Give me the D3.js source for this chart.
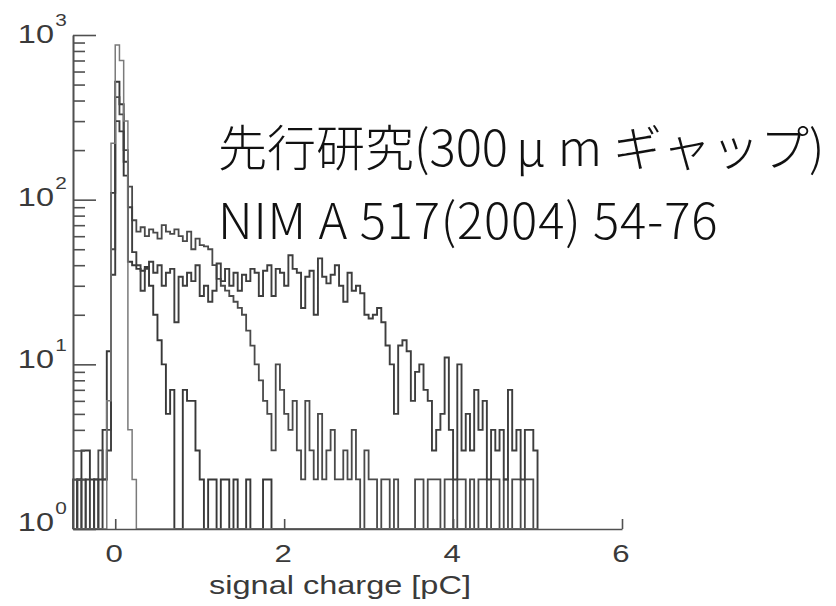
<!DOCTYPE html>
<html lang="ja">
<head>
<meta charset="UTF-8">
<title>signal charge</title>
<style>
  html, body { margin: 0; padding: 0; background: #fff; }
  svg { display: block; }
  .lbl { font-family: "Liberation Sans", Arial, sans-serif; fill: #3a3a3a; }
  .note { font-family: "Noto Sans CJK JP", sans-serif; fill: #111; font-size: 49px; font-weight: 300; }
</style>
</head>
<body>
<div id="chart"></div>
<script src="https://d3js.org/d3.v7.min.js"></script>
<script>
// histograms: 0.05 pC bins starting at -0.5 pC (110 bins up to 5.0 pC)
const binStart = -0.5;
const binWidth = 0.05;

const pedestal = [
  0, 0, 0, 0, 0, 0, 0, 1, 6, 220,
  870, 700, 300, 4, 2, 0, 0, 0, 0, 0,
  0, 0, 0, 0, 0, 0, 0, 0, 0, 0,
  0, 0, 0, 0, 0, 0, 0, 0, 0, 0,
  0, 0, 0, 0, 0, 0, 0, 0, 0, 0,
  0, 0, 0, 0, 0, 0, 0, 0, 0, 0,
  0, 0, 0, 0, 0, 0, 0, 0, 0, 0,
  0, 0, 0, 0, 0, 0, 0, 0, 0, 0,
  0, 0, 0, 0, 0, 0, 0, 0, 0, 0,
  0, 0, 0, 0, 0, 0, 0, 0, 0, 0,
  0, 0, 0, 0, 0, 0, 0, 0, 0, 0
];

const lowGain = [
  0, 2, 3, 3, 2, 0, 2, 4, 12, 110,
  520, 380, 140, 42, 40, 38, 37, 39, 30, 20,
  14, 10, 5, 7, 1, 1, 7, 6, 6, 3,
  2, 0, 2, 2, 0, 2, 2, 0, 2, 0,
  0, 2, 0, 0, 0, 2, 2, 0, 0, 0,
  0, 0, 0, 0, 0, 0, 0, 0, 0, 0,
  0, 0, 0, 0, 0, 0, 0, 0, 0, 0,
  0, 0, 0, 0, 0, 0, 0, 0, 0, 0,
  0, 0, 0, 0, 0, 0, 0, 0, 0, 0,
  0, 0, 0, 0, 0, 0, 0, 0, 0, 0,
  0, 0, 0, 0, 0, 0, 0, 0, 0, 0
];

const midGain = [
  2, 0, 2, 0, 0, 2, 3, 2, 4, 50,
  420, 330, 200, 120, 75, 64, 68, 60, 66, 63,
  58, 70, 64, 62, 66, 60, 56, 64, 50, 58,
  53, 52, 50, 40, 33, 30, 28, 26, 24, 22,
  20, 16, 13, 10, 8, 6, 5, 3, 10, 7,
  5, 4, 6, 3, 2, 6, 3, 2, 5, 2,
  3, 4, 2, 2, 3, 2, 4, 2, 0, 3,
  2, 2, 0, 2, 2, 0, 2, 1, 0, 0,
  0, 2, 2, 0, 2, 2, 2, 0, 2, 2,
  0, 2, 2, 0, 2, 0, 2, 2, 0, 2,
  2, 0, 2, 0, 2, 2, 0, 2, 2, 0
];

const highGain = [
  0, 2, 0, 2, 0, 2, 0, 2, 3, 35,
  300, 260, 170, 90, 48, 40, 28, 38, 42, 36,
  40, 30, 36, 38, 18, 34, 30, 36, 32, 40,
  26, 30, 24, 28, 41, 32, 38, 30, 36, 28,
  35, 32, 38, 36, 26, 37, 40, 26, 38, 36,
  30, 46, 38, 36, 22, 34, 37, 20, 44, 34,
  31, 35, 40, 30, 24, 36, 28, 30, 27, 20,
  19, 20, 22, 18, 13, 10, 5, 13, 14, 12,
  6, 9, 10, 7, 6, 3, 4, 5, 11, 4,
  2, 10, 3, 5, 3, 7, 4, 6, 2, 4,
  3, 4, 2, 7, 3, 4, 2, 4, 4, 3
];

const yTicks = [1, 10, 100, 1000];
const yExponents = ['0', '1', '2', '3'];
const xTicks = [0, 2, 4, 6];
const xTitle = 'signal charge [pC]';
// first line is split so the μ gets the wide spacing of the original
const noteLine1 = ['先行研究(300', 'μ', 'm ギャップ)'];
const noteLine2 = 'NIM A 517(2004) 54-76';

const width = 836, height = 606;
const stretch = 1.3; // the original plot is stretched horizontally

const svg = d3.select('#chart').append('svg')
  .attr('width', width)
  .attr('height', height);

const x = d3.scaleLinear().domain([-0.5, 6]).range([73, 622]);
const y = d3.scaleLog().domain([1, 1000]).range([529, 35]);

// histogram outlines
const line = d3.line()
  .x(d => x(d[0]))
  .y(d => y(Math.max(d[1], 1)));

function histPoints(counts) {
  const pts = [[binStart, 0]];
  counts.forEach((c, i) => {
    const x0 = binStart + i * binWidth;
    pts.push([x0, c], [x0 + binWidth, c]);
  });
  pts.push([binStart + counts.length * binWidth, 0]);
  return pts;
}

const series = [
  { data: lowGain, color: '#383838', w: 1.9 },
  { data: midGain, color: '#4a4a4a', w: 1.8 },
  { data: highGain, color: '#3e3e3e', w: 1.9 },
  { data: pedestal, color: '#7a7a7a', w: 1.5 }
];

series.forEach(s => {
  svg.append('path')
    .attr('d', line(histPoints(s.data)))
    .attr('fill', 'none')
    .attr('stroke', s.color)
    .attr('stroke-width', s.w)
    .attr('stroke-linejoin', 'miter');
});

// y axis (ticks pointing inward)
const minorTicks = [];
[1, 10, 100].forEach(d => {
  for (let m = 2; m <= 9; m++) minorTicks.push(m * d);
});

const yMinor = svg.append('g')
  .attr('transform', 'translate(73,0)')
  .call(d3.axisRight(y).tickValues(minorTicks).tickSize(12).tickSizeOuter(0).tickFormat(''));
const yMajor = svg.append('g')
  .attr('transform', 'translate(73,0)')
  .call(d3.axisRight(y).tickValues(yTicks).tickSize(23).tickSizeOuter(0).tickFormat(''));

// x axis (ticks pointing up)
const xAxis = svg.append('g')
  .attr('transform', 'translate(0,529)')
  .call(d3.axisTop(x).tickValues(xTicks).tickSize(10).tickSizeOuter(0).tickFormat(''));

[yMinor, yMajor, xAxis].forEach(g => {
  g.selectAll('path, line').attr('stroke', '#505050').attr('stroke-width', 1.6);
});

// y tick labels: 10 with superscript exponent
yTicks.forEach((t, i) => {
  const g = svg.append('g')
    .attr('transform', `translate(54,${y(t) + 2 + 2 * i}) scale(${stretch},1)`);
  g.append('text')
    .attr('class', 'lbl')
    .attr('text-anchor', 'end')
    .attr('font-size', 25)
    .text('10');
  g.append('text')
    .attr('class', 'lbl')
    .attr('x', 1)
    .attr('y', -17)
    .attr('font-size', 16)
    .text(yExponents[i]);
});

// x tick labels
xTicks.forEach(t => {
  svg.append('text')
    .attr('class', 'lbl')
    .attr('text-anchor', 'middle')
    .attr('font-size', 24)
    .attr('transform', `translate(${x(t) - 1},562) scale(${stretch},1)`)
    .text(t);
});

svg.append('text')
  .attr('class', 'lbl')
  .attr('text-anchor', 'middle')
  .attr('font-size', 25)
  .attr('transform', `translate(340,594) scale(${stretch},1)`)
  .text(xTitle);

// annotation
const t1 = svg.append('text')
  .attr('class', 'note')
  .attr('x', 218)
  .attr('y', 166);
t1.append('tspan').text(noteLine1[0]);
t1.append('tspan').attr('dx', 8).text(noteLine1[1]);
t1.append('tspan').attr('dx', 12).text(noteLine1[2]);

svg.append('text')
  .attr('class', 'note')
  .attr('x', 218)
  .attr('y', 239)
  .attr('letter-spacing', 0.8)
  .text(noteLine2);
</script>
</body>
</html>
